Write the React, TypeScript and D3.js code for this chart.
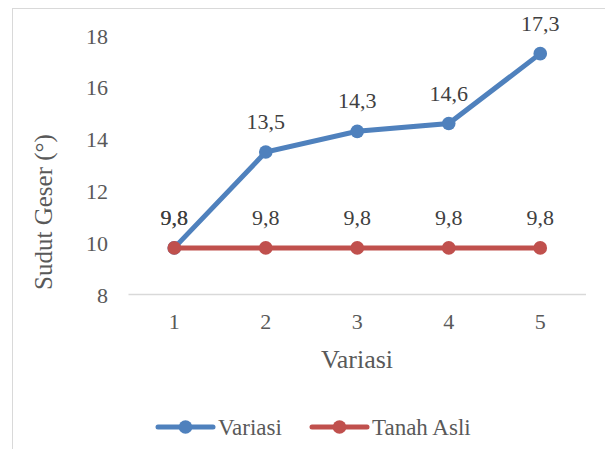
import React from "react";
import * as d3 from "d3";

const categories = ["1", "2", "3", "4", "5"];
const variasi = [9.8, 13.5, 14.3, 14.6, 17.3];
const tanahAsli = [9.8, 9.8, 9.8, 9.8, 9.8];
const yTicks = [8, 10, 12, 14, 16, 18];
const seriesNames = ["Variasi", "Tanah Asli"];
const colors = ["#4F81BD", "#C0504D"];

const W = 613;
const H = 457;
const TXT = "#595959";

function T(props: any) {
  const { children, ...rest } = props;
  return (
    <text className="ser" fontFamily="Liberation Serif" {...rest}>
      {children}
    </text>
  );
}

export default function App() {
  const x = d3.scaleBand().domain(categories).range([128.5, 586]);
  const y = d3.scaleLinear().domain([8, 18]).range([294.5, 35.5]);
  const cx = (c: string) => (x(c) as number) + x.bandwidth() / 2;
  const line = d3
    .line<number>()
    .x((_, i) => cx(categories[i]))
    .y((v) => y(v));
  const series = [variasi, tanahAsli];
  const fmt = (v: number) => v.toFixed(1).replace(".", ",");
  const legendX = [158, 312];

  return (
    <svg width={W} height={H} style={{ display: "block", margin: -8 }}>
      <style>{`svg text.ser, text.ser, .ser { font-family: "Liberation Serif", "Times New Roman", serif !important; }`}</style>
      <rect x={12.5} y={8.5} width={W - 13} height={H - 10} fill="#fff" stroke="#d9d9d9" />
      {yTicks.map((t) => (
        <T key={t} x={108} y={y(t) + 8} textAnchor="end" fontSize={22} fill={TXT}>
          {t}
        </T>
      ))}
      <line x1={128.5} x2={586} y1={y(8)} y2={y(8)} stroke="#d9d9d9" strokeWidth={1.5} />
      {categories.map((c) => (
        <T key={c} x={cx(c)} y={329} textAnchor="middle" fontSize={22} fill={TXT}>
          {c}
        </T>
      ))}
      <T x={357} y={368} textAnchor="middle" fontSize={26} fill={TXT}>
        Variasi
      </T>
      <T transform={`translate(52,212) rotate(-90)`} textAnchor="middle" fontSize={25} fill={TXT}>
        Sudut Geser (°)
      </T>
      {series.map((s, si) => (
        <g key={si}>
          <path d={line(s) || ""} fill="none" stroke={colors[si]} strokeWidth={5} strokeLinecap="round" />
          {s.map((v, i) => (
            <circle key={i} cx={cx(categories[i])} cy={y(v)} r={6.8} fill={colors[si]} />
          ))}
        </g>
      ))}
      {series.map((s, si) => (
        <g key={"l" + si}>
          {s.map((v, i) => (
            <T key={i} x={cx(categories[i])} y={y(v) - 23} textAnchor="middle" fontSize={22} fill="#404040">
              {fmt(v)}
            </T>
          ))}
        </g>
      ))}
      {seriesNames.map((n, i) => {
        const lx = legendX[i];
        const ly = 427;
        return (
          <g key={n}>
            <line x1={lx} x2={lx + 55} y1={ly} y2={ly} stroke={colors[i]} strokeWidth={5} strokeLinecap="round" />
            <circle cx={lx + 27.5} cy={ly} r={6.8} fill={colors[i]} />
            <T x={lx + 60} y={ly + 8} fontSize={23} fill={TXT}>
              {n}
            </T>
          </g>
        );
      })}
    </svg>
  );
}
